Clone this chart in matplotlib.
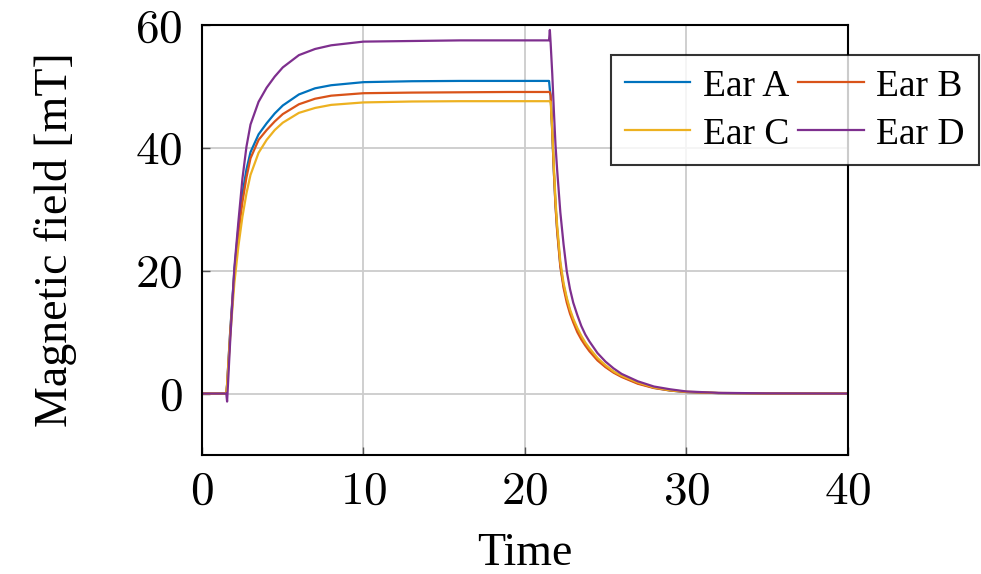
import matplotlib
matplotlib.use('Agg')
import matplotlib.pyplot as plt

plt.rcParams['font.family'] = ['Liberation Serif', 'DejaVu Serif']
plt.rcParams['mathtext.fontset'] = 'cm'

# time samples (rise part, then fall part)
t_rise = [0, 1.5, 1.55, 1.75, 2.0, 2.25, 2.5, 2.75, 3.0, 3.5, 4.0, 4.5, 5.0,
          6.0, 7.0, 8.0, 10.0, 13.0, 16.0, 19.0, 21.5]
t_fall = [21.55, 21.6, 21.7, 21.8, 21.9, 22.0, 22.2, 22.4, 22.6, 22.8, 23.0,
          23.25, 23.5, 23.75, 24.0, 24.5, 25.0, 25.5, 26.0, 27.0, 28.0, 29.0,
          30.0, 32.0, 35.0, 40.0]
time = t_rise + t_fall

ear_a = [0, 0, 1.5, 10.5, 20, 27, 32.5, 36.5, 39.3, 42.2, 44.0, 45.6, 46.9,
         48.7, 49.7, 50.2, 50.7, 50.85, 50.9, 50.9, 50.9,
         49.5, 48.5, 42.5, 36, 30.8, 26.8, 20.9, 17.6, 15.3, 13.4, 11.9,
         10.4, 9.1, 8.0, 7.1, 5.6, 4.4, 3.5, 2.8, 1.7, 0.95, 0.5,
         0.25, 0.08, 0.02, 0]
ear_b = [0, 0, 1.5, 10.3, 19.5, 26, 31.2, 35.2, 38.3, 41.3, 42.9, 44.3, 45.5,
         47.1, 48.0, 48.5, 48.9, 49.0, 49.05, 49.1, 49.1,
         49.1, 48.5, 42.5, 36, 30.5, 26.5, 20.6, 17.2, 14.8, 13.0, 11.6,
         10.0, 8.8, 7.8, 6.9, 5.4, 4.3, 3.4, 2.7, 1.6, 0.9, 0.5,
         0.25, 0.08, 0.02, 0]
ear_c = [0, 0, 1.3, 9.5, 18, 24, 28.8, 32.6, 35.6, 39.2, 41.3, 42.9, 44.1,
         45.7, 46.5, 47.0, 47.4, 47.55, 47.6, 47.6, 47.6,
         47.6, 47.5, 43, 37, 31.5, 27.5, 21.5, 18.0, 15.6, 13.7, 12.2,
         10.7, 9.4, 8.3, 7.4, 5.8, 4.6, 3.6, 2.9, 1.8, 1.0, 0.55,
         0.3, 0.1, 0.03, 0]
ear_d = [0, 0, -1.3, 9, 20.5, 28, 35, 40.2, 43.8, 47.5, 49.8, 51.6, 53.1,
         55.1, 56.1, 56.7, 57.3, 57.4, 57.5, 57.5, 57.5,
         59.2, 57, 52, 46, 40.5, 36.5, 29.5, 24.3, 19.9, 17.0, 14.8,
         12.8, 11.0, 9.6, 8.5, 6.6, 5.2, 4.1, 3.2, 2.0, 1.15, 0.7,
         0.35, 0.12, 0.04, 0]

labels = ['Ear A', 'Ear B', 'Ear C', 'Ear D']
colors = ['#0072BD', '#D95319', '#EDB120', '#7E2F8E']
xticks = [0, 10, 20, 30, 40]
yticks = [0, 20, 40, 60]

fig = plt.figure(figsize=(9.81, 5.74), dpi=100)
ax = fig.add_axes([0.206, 0.2073, 0.658, 0.7491])

lines = []
for y, lab, c in zip([ear_a, ear_b, ear_c, ear_d], labels, colors):
    ln, = ax.plot(time, y, color=c, lw=1.6, label=lab)
    lines.append(ln)

ax.set_xlim(0, 40)
ax.set_ylim(-10, 60)
ax.set_xticks(xticks)
ax.set_yticks(yticks)
ax.set_xticklabels(['$%d$' % v for v in xticks])
ax.set_yticklabels(['$%d$' % v for v in yticks])
ax.tick_params(direction='in', length=6, width=1, color='#555555',
               labelsize=34, pad=14)
ax.tick_params(axis='x', pad=12)
ax.grid(True, color='#cccccc', lw=1.3)
ax.set_axisbelow(True)
for s in ax.spines.values():
    s.set_linewidth(1.5)

ax.set_xlabel('Time', fontsize=33, labelpad=13)
ax.set_ylabel('Magnetic field [mT]', fontsize=33, labelpad=42)

# row-wise order: A B / C D
h = [lines[0], lines[2], lines[1], lines[3]]
leg = ax.legend(h, [l.get_label() for l in h], ncol=2, loc='upper left',
                bbox_to_anchor=(0.633, 0.93), borderaxespad=0, fontsize=27,
                frameon=True, fancybox=False, edgecolor='black',
                handlelength=1.75, handletextpad=0.33, columnspacing=0.25,
                labelspacing=0.36, borderpad=0.37)
leg.get_frame().set_linewidth(1.5)

fig.savefig('out.png', dpi=100)
